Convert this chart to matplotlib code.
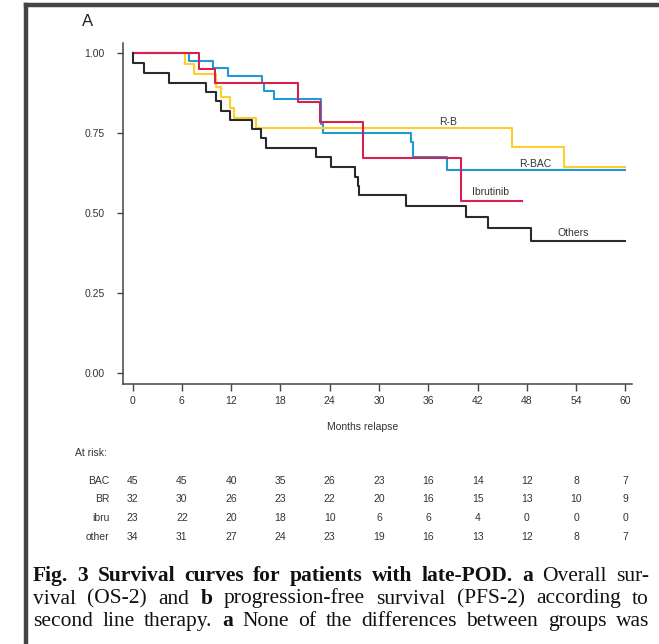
import matplotlib
matplotlib.use("Agg")
import matplotlib.pyplot as plt
from matplotlib.transforms import blended_transform_factory

plt.rcParams["font.family"] = ["Liberation Sans", "DejaVu Sans"]

# Kaplan-Meier step curves: event times (months) and survival after each step
bac_t = [0, 6.9, 9.8, 11.6, 15.7, 16.0, 17.2, 22.9, 23.2, 33.9, 34.1, 38.3, 59.9]
bac_s = [1.0, 0.976, 0.953, 0.929, 0.905, 0.881, 0.857, 0.779, 0.749, 0.722, 0.674, 0.633, 0.633]

rb_t = [0, 6.4, 7.5, 10.15, 10.8, 11.85, 12.3, 15.0, 46.2, 52.5, 59.9]
rb_s = [1.0, 0.966, 0.933, 0.895, 0.863, 0.827, 0.796, 0.764, 0.707, 0.645, 0.645]

ibru_t = [0, 8.1, 10.0, 20.2, 22.8, 28.1, 40.0, 47.4]
ibru_s = [1.0, 0.949, 0.905, 0.848, 0.784, 0.671, 0.538, 0.538]

oth_t = [0, 0.1, 1.4, 4.4, 9.0, 10.2, 10.8, 11.85, 14.6, 15.6, 16.3, 22.3, 24.2,
         27.1, 27.4, 27.6, 33.3, 40.6, 43.3, 48.45, 59.9]
oth_s = [1.0, 0.969, 0.937, 0.907, 0.879, 0.850, 0.819, 0.790, 0.762, 0.734, 0.702,
         0.674, 0.643, 0.613, 0.584, 0.556, 0.522, 0.489, 0.452, 0.413, 0.413]

# numbers at risk
risk_months = [0, 6, 12, 18, 24, 30, 36, 42, 48, 54, 60]
risk_groups = ["BAC", "BR", "ibru", "other"]
risk_bac = [45, 45, 40, 35, 26, 23, 16, 14, 12, 8, 7]
risk_br = [32, 30, 26, 23, 22, 20, 16, 15, 13, 10, 9]
risk_ibru = [23, 22, 20, 18, 10, 6, 6, 4, 0, 0, 0]
risk_other = [34, 31, 27, 24, 23, 19, 16, 13, 12, 8, 7]

yticks = [0.0, 0.25, 0.5, 0.75, 1.0]

W, H = 659, 644
fig = plt.figure(figsize=(W / 100, H / 100), dpi=100)

# page frame
frame_col = "#454545"
fig.add_artist(plt.Line2D([26 / W, 26 / W], [0, 1 - 5 / H], color=frame_col, lw=3.2,
                          solid_capstyle="projecting"))
fig.add_artist(plt.Line2D([26 / W, 1], [1 - 5 / H, 1 - 5 / H], color=frame_col, lw=3.2,
                          solid_capstyle="projecting"))

ax = fig.add_axes([122.7 / W, 1 - 384 / H, (632 - 122.7) / W, (384 - 43) / H])
ax.set_xlim(-1.2, 60.8)
ax.set_ylim(-0.034, 1.031)

ax.step(bac_t, bac_s, where="post", color="#1f9ad6", lw=1.5)
ax.step(rb_t, rb_s, where="post", color="#fcd02a", lw=1.5)
ax.step(ibru_t, ibru_s, where="post", color="#d7204f", lw=1.5)
ax.step(oth_t, oth_s, where="post", color="#2a2a2a", lw=1.5)

lab_kw = dict(fontsize=7.5, color="#333333", ha="center", va="center")
ax.text(38.4, 0.785, "R-B", **lab_kw)
ax.text(49.0, 0.653, "R-BAC", **lab_kw)
ax.text(43.6, 0.567, "Ibrutinib", **lab_kw)
ax.text(53.7, 0.437, "Others", **lab_kw)

for side in ["top", "right"]:
    ax.spines[side].set_visible(False)
for side in ["left", "bottom"]:
    ax.spines[side].set_color("#444444")
    ax.spines[side].set_linewidth(1.1)

ax.set_xticks(risk_months)
ax.set_yticks(yticks)
ax.set_yticklabels([f"{v:.2f}" for v in yticks])
ax.tick_params(axis="x", direction="out", length=5, width=1, color="#444444",
               labelsize=7.5, labelcolor="#333333", pad=4)
ax.tick_params(axis="y", direction="out", length=4, width=1, color="#444444",
               labelsize=7.5, labelcolor="#333333", pad=9)

fig.text(88 / W, 1 - 21 / H, "A", fontsize=12, color="#222222", ha="center", va="center")
fig.text(363 / W, 1 - 427 / H, "Months relapse", fontsize=7.5, color="#333333",
         ha="center", va="center")

# at-risk table under the axis
tr = blended_transform_factory(ax.transData, fig.transFigure)
fig.text(75 / W, 1 - 453 / H, "At risk:", fontsize=7.5, color="#333333", ha="left", va="center")
row_y = [481, 499, 518, 537]
for name, counts, yy in zip(risk_groups, [risk_bac, risk_br, risk_ibru, risk_other], row_y):
    fig.text(109.5 / W, 1 - yy / H, name, fontsize=7.5, color="#333333", ha="right", va="center")
    for m, n in zip(risk_months, counts):
        ax.text(m, 1 - yy / H, str(n), transform=tr, fontsize=7.5, color="#333333",
                ha="center", va="center", clip_on=False)

# justified caption
caption = [
    [("Fig.", "bold"), ("3", "bold"), ("Survival", "bold"), ("curves", "bold"), ("for", "bold"),
     ("patients", "bold"), ("with", "bold"), ("late-POD.", "bold"), ("a", "bold"),
     ("Overall", "normal"), ("sur-", "normal")],
    [("vival", "normal"), ("(OS-2)", "normal"), ("and", "normal"), ("b", "bold"),
     ("progression-free", "normal"), ("survival", "normal"), ("(PFS-2)", "normal"),
     ("according", "normal"), ("to", "normal")],
    [("second", "normal"), ("line", "normal"), ("therapy.", "normal"), ("a", "bold"),
     ("None", "normal"), ("of", "normal"), ("the", "normal"), ("differences", "normal"),
     ("between", "normal"), ("groups", "normal"), ("was", "normal")],
]
baselines = [581, 603.5, 626]
x0, x1 = 33, 649
renderer = fig.canvas.get_renderer()
for words, base in zip(caption, baselines):
    texts = [fig.text(0, 1 - base / H, w, fontsize=15.5, fontweight=wt, color="#111111",
                      family=["Liberation Serif", "DejaVu Serif"], va="baseline", ha="left")
             for w, wt in words]
    widths = [t.get_window_extent(renderer).width for t in texts]
    gap = (x1 - x0 - sum(widths)) / (len(texts) - 1)
    x = x0
    for t, w in zip(texts, widths):
        t.set_x(x / W)
        x += w + gap

fig.savefig("out.png", dpi=100)
